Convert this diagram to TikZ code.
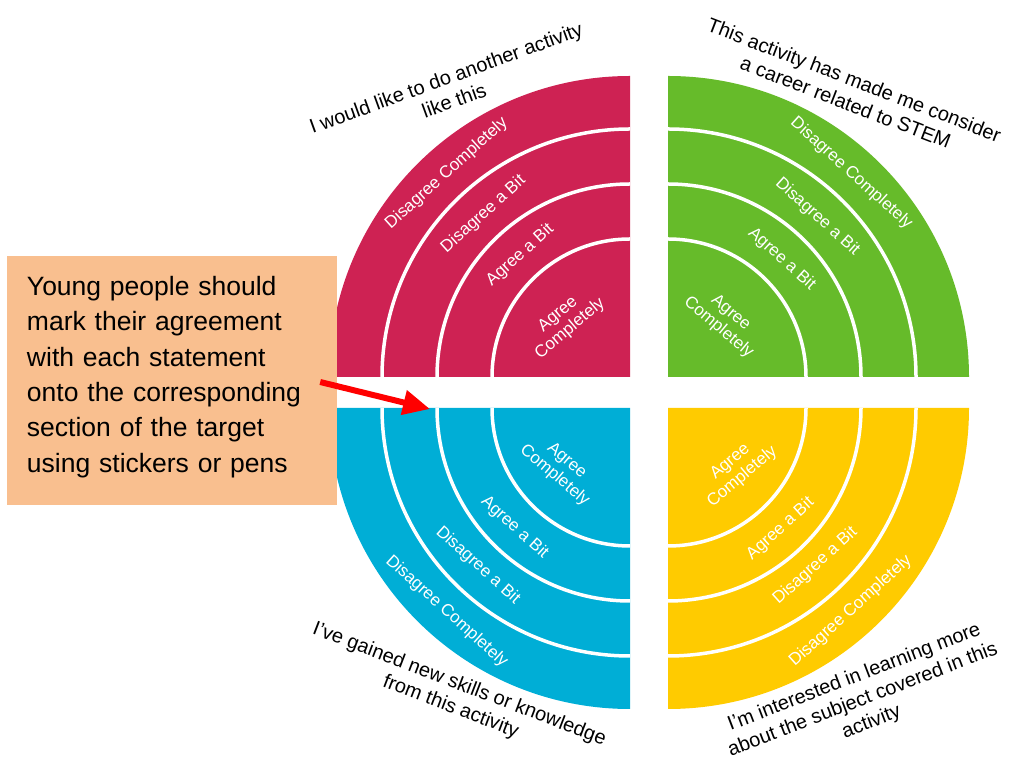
\documentclass[tikz,border=0pt]{standalone}
\usepackage{fontspec}
\setmainfont{Liberation Sans}
\usetikzlibrary{arrows.meta}

\definecolor{targetred}{HTML}{CE2253}
\definecolor{targetgreen}{HTML}{66BB2A}
\definecolor{targetblue}{HTML}{00AED6}
\definecolor{targetyellow}{HTML}{FFCB00}
\definecolor{calloutfill}{HTML}{F9BF8F}

\begin{document}
\begin{tikzpicture}[x=1pt, y=1pt,
    ringline/.style={white, line width=3.5pt},
    ringlabel/.style={text=white, font=\fontsize{17pt}{19pt}\selectfont, align=center, inner sep=0pt},
    statement/.style={font=\fontsize{20pt}{24pt}\selectfont, align=center, inner sep=0pt},
    markarrow/.style={red, line width=6pt, -{Triangle[length=27pt, width=24pt]}}]
\newcommand\outerrad{301}
\useasboundingbox (0, 0) rectangle (1009, 760);

\coordinate (redc) at (630, 383);
\coordinate (greenc) at (668, 383);
\coordinate (bluec) at (630, 352);
\coordinate (yellowc) at (668, 352);

% the four quarters of the target
\foreach \c/\a/\col in {redc/90/targetred, greenc/0/targetgreen, bluec/180/targetblue, yellowc/270/targetyellow} {
    \fill [\col] (\c) -- ([shift={(\a:\outerrad)}]\c) arc [start angle=\a, delta angle=90, radius=\outerrad] -- cycle;
    \foreach \r in {138, 193, 248} {
        \draw [ringline] ([shift={(\a:\r)}]\c) arc [start angle=\a, delta angle=90, radius=\r];
    }
}

% ring labels
\node (redDC) at ([shift={(132:274)}]redc) [ringlabel, rotate=42] {Disagree Completely};
\node (redDB) at ([shift={(132:219)}]redc) [ringlabel, rotate=42] {Disagree a Bit};
\node (redAB) at ([shift={(132:164)}]redc) [ringlabel, rotate=42] {Agree a Bit};
\node (redAC) at ([shift={(140:86)}]redc) [ringlabel, rotate=40] {Agree\\Completely};

\node (greenDC) at ([shift={(48:274)}]greenc) [ringlabel, rotate=-42] {Disagree Completely};
\node (greenDB) at ([shift={(47:219)}]greenc) [ringlabel, rotate=-42] {Disagree a Bit};
\node (greenAB) at ([shift={(46:164)}]greenc) [ringlabel, rotate=-42] {Agree a Bit};
\node (greenAC) at ([shift={(45:80)}]greenc) [ringlabel, rotate=-40] {Agree\\Completely};

\node (blueDC) at ([shift={(228:274)}]bluec) [ringlabel, rotate=-42] {Disagree Completely};
\node (blueDB) at ([shift={(226:219)}]bluec) [ringlabel, rotate=-42] {Disagree a Bit};
\node (blueAB) at ([shift={(226:166)}]bluec) [ringlabel, rotate=-42] {Agree a Bit};
\node (blueAC) at ([shift={(221:92)}]bluec) [ringlabel, rotate=-40] {Agree\\Completely};

\node (yellowDC) at ([shift={(-48:273)}]yellowc) [ringlabel, rotate=42] {Disagree Completely};
\node (yellowDB) at ([shift={(-47:216)}]yellowc) [ringlabel, rotate=42] {Disagree a Bit};
\node (yellowAB) at ([shift={(-47:165)}]yellowc) [ringlabel, rotate=42] {Agree a Bit};
\node (yellowAC) at ([shift={(-42:92)}]yellowc) [ringlabel, rotate=40] {Agree\\Completely};

% statements round the target
\node (redstatement) at (450, 671) [statement, rotate=20] {I would like to do another activity\\like this};
\node (greenstatement) at (850, 669) [statement, rotate=-21] {This activity has made me consider\\a career related to STEM};
\node (bluestatement) at (455, 64) [statement, rotate=-21] {I've gained new skills or knowledge\\from this activity};
\node (yellowstatement) at (863, 60) [statement, rotate=21] {I'm interested in learning more\\about the subject covered in this\\activity};

% instruction box
\node (callout) at (172, 379.5) [fill=calloutfill, minimum width=330, minimum height=249, text width=290, inner xsep=20pt, text height=12pt, align=left, font=\fontsize{26.5pt}{35.4pt}\selectfont] {Young people should\\mark their agreement\\with each statement\\onto the corresponding\\section of the target\\using stickers or pens};
\coordinate (marktip) at (430, 351);
\draw [markarrow] ([xshift=-17pt, yshift=-1.5pt]callout.east) -- (marktip);
\end{tikzpicture}
\end{document}
